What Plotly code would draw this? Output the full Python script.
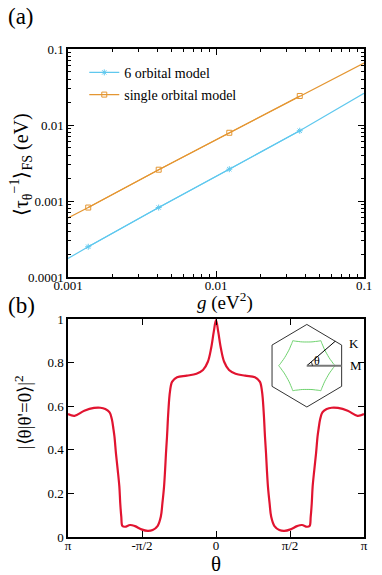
import numpy as np
import plotly.graph_objects as go

# ---- panel (a): scattering rate vs coupling ----
g_pts = [0.00137, 0.0041, 0.0123, 0.0368]
rate_6orb = [2.5e-4, 8.2e-4, 2.62e-3, 8.4e-3]
rate_1orb = [8.2e-4, 2.58e-3, 7.9e-3, 2.41e-2]

g_fit = [0.001, 0.00137, 0.0041, 0.0123, 0.0368, 0.1]
fit_6orb = [1.75e-4, 2.5e-4, 8.2e-4, 2.62e-3, 8.4e-3, 2.62e-2]
fit_1orb = [6.0e-4, 8.2e-4, 2.58e-3, 7.9e-3, 2.41e-2, 6.55e-2]

# ---- panel (b): overlap |<theta|theta'=0>|^2, theta in units of pi (left half) ----
theta_half = [-1.0, -0.956, -0.89, -0.824, -0.781, -0.748, -0.719, -0.704, -0.693,
              -0.686, -0.676, -0.664, -0.653, -0.647, -0.640, -0.632, -0.614, -0.581,
              -0.548, -0.504, -0.461, -0.428, -0.395, -0.373, -0.362, -0.351, -0.344,
              -0.338, -0.331, -0.322, -0.311, -0.296, -0.263, -0.197, -0.132, -0.088,
              -0.055, -0.033, -0.015, 0.0]
overlap_half = [0.564, 0.556, 0.579, 0.592, 0.593, 0.587, 0.572, 0.541, 0.495,
                0.46, 0.384, 0.307, 0.231, 0.155, 0.093, 0.05, 0.047, 0.055,
                0.05, 0.035, 0.028, 0.032, 0.05, 0.093, 0.155, 0.231, 0.307,
                0.384, 0.46, 0.575, 0.667, 0.713, 0.733, 0.74, 0.749, 0.766,
                0.804, 0.866, 0.942, 0.995]

theta = theta_half + [-t for t in theta_half[-2::-1]]
overlap = overlap_half + overlap_half[-2::-1]

theta_ticks = [-1, -0.5, 0, 0.5, 1]
theta_labels = ["π", "-π/2", "0", "π/2", "π"]

fs_angle = [0, 5, 10, 15, 20, 25, 30]
fs_radius = [0.70, 0.655, 0.625, 0.60, 0.585, 0.577, 0.575]
k_angle = 40

FONT = "Liberation Serif"
BLUE = "rgb(95,200,238)"
ORANGE = "rgb(228,150,50)"
RED = "rgb(225,20,48)"

fig = go.Figure()

fig.add_trace(go.Scatter(x=g_fit, y=fit_6orb, mode="lines", line=dict(color=BLUE, width=1.2),
                         showlegend=False, xaxis="x", yaxis="y"))
fig.add_trace(go.Scatter(x=g_fit, y=fit_1orb, mode="lines", line=dict(color=ORANGE, width=1.2),
                         showlegend=False, xaxis="x", yaxis="y"))
fig.add_trace(go.Scatter(x=g_pts, y=rate_6orb, mode="lines+markers", name="6 orbital model",
                         legendgroup="a", line=dict(color=BLUE, width=1.2),
                         marker=dict(symbol="asterisk-open", size=5, color=BLUE, line=dict(width=1, color=BLUE)),
                         xaxis="x", yaxis="y"))
fig.add_trace(go.Scatter(x=g_pts, y=rate_1orb, mode="lines+markers", name="single orbital model",
                         legendgroup="b", line=dict(color=ORANGE, width=1.2),
                         marker=dict(symbol="square-open", size=5, color=ORANGE, line=dict(width=1, color=ORANGE)),
                         xaxis="x", yaxis="y"))

fig.add_trace(go.Scatter(x=theta, y=overlap, mode="lines", line=dict(color=RED, width=2.2, shape="spline"),
                         showlegend=False, xaxis="x2", yaxis="y2"))

# inset geometry
hex_ang = np.deg2rad([90, 30, -30, -90, -150, 150, 90])
fig.add_trace(go.Scatter(x=np.cos(hex_ang), y=np.sin(hex_ang), mode="lines",
                         line=dict(color="rgb(50,50,50)", width=1), showlegend=False,
                         xaxis="x3", yaxis="y3"))
seg_a = fs_angle + [60 - a for a in fs_angle[-2::-1]]
seg_r = fs_radius + fs_radius[-2::-1]
fs_a = np.deg2rad(np.concatenate([np.array(seg_a) + 60 * k for k in range(6)]))
fs_r = np.array(seg_r * 6)
fig.add_trace(go.Scatter(x=fs_r * np.cos(fs_a), y=fs_r * np.sin(fs_a), mode="lines",
                         line=dict(color="rgb(110,210,110)", width=1, shape="spline"), showlegend=False,
                         xaxis="x3", yaxis="y3"))
k_len = 0.866 / np.cos(np.deg2rad(60 - k_angle))
fig.add_trace(go.Scatter(x=[0, k_len * np.cos(np.deg2rad(k_angle))], y=[0, k_len * np.sin(np.deg2rad(k_angle))],
                         mode="lines", line=dict(color="black", width=1), showlegend=False,
                         xaxis="x3", yaxis="y3"))
fig.add_trace(go.Scatter(x=[0, 0.866], y=[0, 0], mode="lines", line=dict(color="rgb(120,120,120)", width=2),
                         showlegend=False, xaxis="x3", yaxis="y3"))
arc = np.deg2rad(np.arange(0, k_angle + 1, 5))
fig.add_trace(go.Scatter(x=0.14 * np.cos(arc), y=0.14 * np.sin(arc), mode="lines",
                         line=dict(color="black", width=0.8), showlegend=False, xaxis="x3", yaxis="y3"))

minor_vals = [m * 10.0 ** e for e in range(-4, -1) for m in range(2, 10)]
axis_common = dict(showline=True, linecolor="black", linewidth=1.5, mirror="ticks", ticks="inside",
                   tickcolor="black", ticklen=6, showgrid=False, zeroline=False,
                   ticklabeloverflow="allow",
                   tickfont=dict(family=FONT, size=13, color="black"))


def px_y(py):
    return (537 - py) / 488


def px_x(px):
    return (px - 68) / 304


def label(text, x, y, size, angle=0):
    return dict(text=text, x=px_x(x), y=px_y(y), xref="paper", yref="paper", xanchor="center",
                yanchor="middle", textangle=angle, showarrow=False, font=dict(size=size))


fig.update_layout(
    width=382, height=575,
    margin=dict(l=68, r=10, t=49, b=38),
    paper_bgcolor="white", plot_bgcolor="rgba(0,0,0,0)",
    font=dict(family=FONT, color="black"),
    xaxis=dict(axis_common, domain=[0, 1], anchor="y", type="log", range=[-3, -1],
               tickvals=[0.001, 0.01, 0.1], ticktext=["0.001", "0.01", "0.1"], ticklabelstandoff=-4,
               minor=dict(tickvals=[m * 10.0 ** e for e in range(-3, -1) for m in range(2, 10)],
                          ticks="inside", ticklen=3, tickcolor="black")),
    yaxis=dict(axis_common, domain=[0.5328, 1], anchor="x", type="log", range=[-4, -1],
               tickvals=[0.0001, 0.001, 0.01, 0.1], ticktext=["0.0001", "0.001", "0.01", "0.1"],
               minor=dict(tickvals=minor_vals, ticks="inside", ticklen=3, tickcolor="black")),
    xaxis2=dict(axis_common, domain=[0, 1], anchor="y2", range=[-1, 1], ticklabelstandoff=-4,
                tickvals=theta_ticks, ticktext=theta_labels),
    yaxis2=dict(axis_common, domain=[0, 0.4467], anchor="x2", range=[0, 1], dtick=0.2),
    xaxis3=dict(domain=[0.6589, 0.9549], anchor="y3", range=[-1.09, 1.09], visible=False),
    yaxis3=dict(domain=[0.2588, 0.4432], anchor="x3", range=[-1.09, 1.09], visible=False),
    legend=dict(x=0.055, y=0.984, xanchor="left", yanchor="top", bgcolor="rgba(0,0,0,0)",
                font=dict(family=FONT, size=14), tracegroupgap=1),
    annotations=[
        label("(a)", 20, 17, 23),
        label("(b)", 20, 305, 23),
        label("⟨τ<sub>θ</sub><sup>−1</sup>⟩<sub>FS</sub> (eV)", 20, 165, 20, -90),
        label("<i>g</i> (eV<sup>2</sup>)", 229, 301, 19),
        label("|⟨θ|θ'=0⟩|<sup>2</sup>", 22, 412, 19, -90),
        label("θ", 220, 564, 21),
        dict(text="K", x=1.0, y=0.53, xref="x3", yref="y3", xanchor="left", yanchor="middle",
             showarrow=False, font=dict(size=13)),
        dict(text="M", x=1.02, y=0.0, xref="x3", yref="y3", xanchor="left", yanchor="middle",
             showarrow=False, font=dict(size=13)),
        dict(text="θ", x=0.26, y=0.11, xref="x3", yref="y3", xanchor="center", yanchor="middle",
             showarrow=False, font=dict(size=12)),
    ],
)

# the page body has a default 8px margin; drop it so the figure sits at the window origin
fig.write_html("out.html", config={"displayModeBar": False},
               post_script="document.body.style.margin='0';")
